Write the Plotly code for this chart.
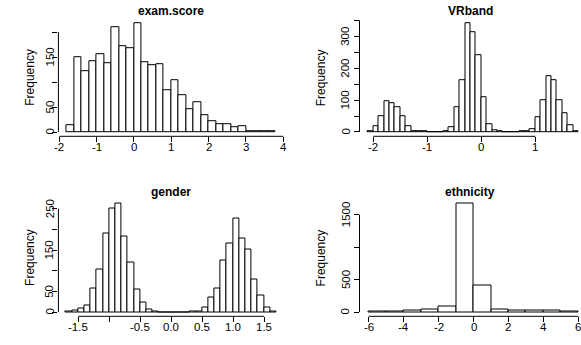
import numpy as np
import plotly.graph_objects as go

W, H = 581, 345

# ---------------- data ----------------
exam_start, exam_width = -1.8, 0.2
exam_counts = [13, 149, 122, 141, 155, 137, 209, 171, 167, 217, 139, 133, 135, 83,
               103, 73, 45, 59, 33, 21, 15, 15, 10, 12, 2, 2, 1, 2]

vr_start, vr_width = -2.1, 0.1
vr_counts = [3, 17, 51, 97, 91, 79, 49, 17, 4, 2,
             1, 0, 0, 0, 3, 16, 77, 163, 340, 312, 240,
             108, 25, 7, 2, 0, 0, 0, 1, 2, 10, 46, 101, 175, 163, 100, 60, 22, 3]

gender_start, gender_width = -1.7, 0.1
gender_counts = [2, 4, 9, 16, 56, 103, 190, 250, 262, 182, 121, 54, 22, 6, 1, 0, 0,
                 0, 0, 0, 1, 2, 11, 35, 57, 125, 165, 227, 177, 152, 78, 40, 10, 2]

eth_start, eth_width = -6, 1
eth_counts = [5, 15, 30, 40, 87, 1667, 410, 40, 25, 20, 20, 10]

titles = ["exam.score", "VRband", "gender", "ethnicity"]

exam_xticks = [-2, -1, 0, 1, 2, 3, 4]
exam_xlabels = ["-2", "-1", "0", "1", "2", "3", "4"]
exam_yticks = [0, 50, 100, 150, 200]
exam_ylabels = ["0", "50", "", "150", ""]

vr_xticks = [-2, -1, 0, 1]
vr_xlabels = ["-2", "-1", "0", "1"]
vr_yticks = [0, 50, 100, 150, 200, 250, 300, 350]
vr_ylabels = ["0", "", "100", "", "200", "", "300", ""]

gender_xticks = [-1.5, -1.0, -0.5, 0.0, 0.5, 1.0, 1.5]
gender_xlabels = ["-1.5", "", "-0.5", "0.0", "0.5", "1.0", "1.5"]
gender_yticks = [0, 50, 100, 150, 200, 250]
gender_ylabels = ["0", "50", "", "150", "", "250"]

eth_xticks = [-6, -4, -2, 0, 2, 4, 6]
eth_xlabels = ["-6", "-4", "-2", "0", "2", "4", "6"]
eth_yticks = [0, 500, 1000, 1500]
eth_ylabels = ["0", "500", "", "1500"]

# ---------------- layout geometry (pixels) ----------------
col_px = [(58.4, 284.5), (359.5, 581.0)]
row_px = [(19.2, 136.3), (199.5, 316.3)]
ylab_px = [30.0, 320.5]          # "Frequency" centre x per column
ytick_px = [49.5, 345.5]         # rotated y tick label centre x per column
xtick_off = 11.0                 # x tick label centre below axis

panels = [
    dict(start=exam_start, width=exam_width, counts=exam_counts,
         xr=(-2.024, 4.033), yr=(-8.6, 225.6),
         xt=exam_xticks, xl=exam_xlabels, yt=exam_yticks, yl=exam_ylabels, col=0, row=0),
    dict(start=vr_start, width=vr_width, counts=vr_counts,
         xr=(-2.256, 1.846), yr=(-13.5, 353.6),
         xt=vr_xticks, xl=vr_xlabels, yt=vr_yticks, yl=vr_ylabels, col=1, row=0),
    dict(start=gender_start, width=gender_width, counts=gender_counts,
         xr=(-1.821, 1.831), yr=(-10.4, 272.3),
         xt=gender_xticks, xl=gender_xlabels, yt=gender_yticks, yl=gender_ylabels, col=0, row=1),
    dict(start=eth_start, width=eth_width, counts=eth_counts,
         xr=(-6.527, 6.152), yr=(-66.0, 1734.0),
         xt=eth_xticks, xl=eth_xlabels, yt=eth_yticks, yl=eth_ylabels, col=1, row=1),
]

FONT = "Liberation Sans, Arial, Helvetica, sans-serif"
TICKFONT = dict(size=11.5, family=FONT, color="black")
fig = go.Figure()
layout = dict(width=W, height=H, margin=dict(l=0, r=0, t=0, b=0),
              paper_bgcolor="white", plot_bgcolor="white", showlegend=False,
              font=dict(family=FONT, color="black", size=11), bargap=0)
shapes = []
annotations = []

for i, p in enumerate(panels):
    k = "" if i == 0 else str(i + 1)
    xa, ya = "x" + k, "y" + k
    n = len(p["counts"])
    centers = p["start"] + p["width"] * (np.arange(n) + 0.5)
    fig.add_trace(go.Bar(x=centers, y=p["counts"], width=p["width"],
                         marker=dict(color="white", line=dict(color="black", width=1)),
                         xaxis=xa, yaxis=ya, hoverinfo="skip"))
    x0, x1 = col_px[p["col"]]
    y0, y1 = row_px[p["row"]]
    layout["xaxis" + k] = dict(
        domain=[x0 / W, x1 / W], range=list(p["xr"]), anchor=ya,
        showgrid=False, zeroline=False, showline=False,
        tickmode="array", tickvals=p["xt"], showticklabels=False,
        ticks="outside", ticklen=5, tickwidth=1, tickcolor="black", fixedrange=True)
    layout["yaxis" + k] = dict(
        domain=[1 - y1 / H, 1 - y0 / H], range=list(p["yr"]), anchor=xa,
        showgrid=False, zeroline=False, showline=False,
        tickmode="array", tickvals=p["yt"], showticklabels=False,
        ticks="outside", ticklen=5, tickwidth=1, tickcolor="black", fixedrange=True)
    # R-style axis lines spanning first..last tick
    shapes.append(dict(type="line", xref=xa, yref=ya + " domain",
                       x0=p["xt"][0], x1=p["xt"][-1], y0=0, y1=0,
                       line=dict(color="black", width=1)))
    shapes.append(dict(type="line", xref=xa + " domain", yref=ya,
                       x0=0, x1=0, y0=p["yt"][0], y1=p["yt"][-1],
                       line=dict(color="black", width=1)))
    # x tick labels
    for v, t in zip(p["xt"], p["xl"]):
        if t:
            annotations.append(dict(text=t, xref=xa, yref="paper", x=v,
                                    y=1 - (y1 + xtick_off) / H,
                                    xanchor="center", yanchor="middle", showarrow=False,
                                    font=TICKFONT))
    # y tick labels (rotated, as in R)
    for v, t in zip(p["yt"], p["yl"]):
        if t:
            annotations.append(dict(text=t, xref="paper", yref=ya,
                                    x=ytick_px[p["col"]] / W, y=v,
                                    xanchor="center", yanchor="middle", textangle=-90,
                                    showarrow=False, font=TICKFONT))
    # title
    annotations.append(dict(text="<b>" + titles[i] + "</b>", xref="paper", yref="paper",
                            x=(x0 + x1) / 2 / W, y=1 - (y0 - 8.0) / H,
                            xanchor="center", yanchor="middle", showarrow=False,
                            font=dict(size=12, family=FONT, color="black")))
    # y axis label
    annotations.append(dict(text="Frequency", xref="paper", yref="paper",
                            x=ylab_px[p["col"]] / W, y=1 - (y0 + y1) / 2 / H,
                            xanchor="center", yanchor="middle", textangle=-90,
                            showarrow=False,
                            font=dict(size=12, family=FONT, color="black")))

layout["shapes"] = shapes
layout["annotations"] = annotations
fig.update_layout(**layout)
fig.write_html("out.html")
